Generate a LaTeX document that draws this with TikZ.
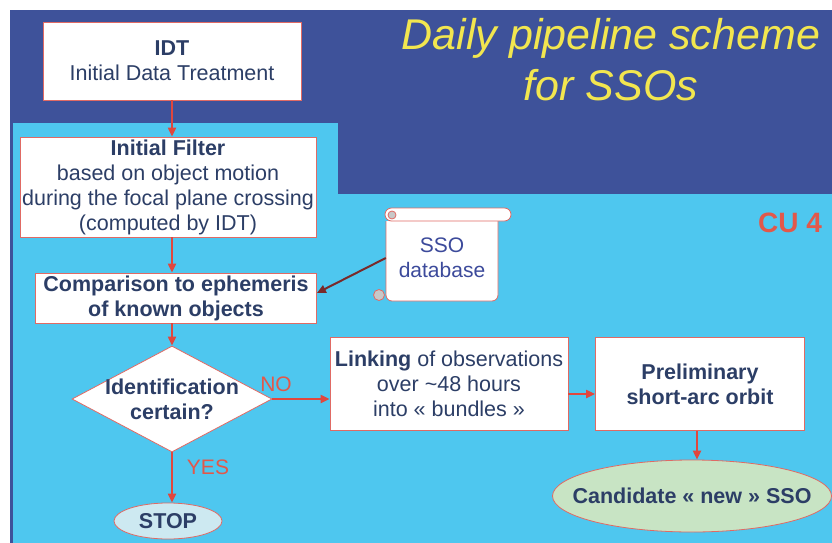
\documentclass[tikz,border=0pt]{standalone}
\usepackage{fontspec}
\setmainfont{Liberation Sans}
\usetikzlibrary{shapes.geometric,arrows.meta}

\definecolor{darkbg}{HTML}{3E529A}
\definecolor{lightbg}{HTML}{4EC7EF}
\definecolor{navy}{HTML}{2C3E66}
\definecolor{boxred}{HTML}{E06A64}
\definecolor{linered}{HTML}{E0473E}
\definecolor{labred}{HTML}{E2584A}
\definecolor{titleyellow}{HTML}{F2E64F}
\definecolor{dbblue}{HTML}{3C4A9B}
\definecolor{dbline}{HTML}{7A2A2A}
\definecolor{curlgray}{HTML}{C8C8C8}
\definecolor{stopfill}{HTML}{CDE9F1}
\definecolor{candfill}{HTML}{C8E4C4}

\tikzset{
  procbox/.style={draw=boxred, line width=0.8pt, fill=white, text=navy, align=center,
    inner sep=1pt, font=\fontsize{21.5}{25}\selectfont},
  decision/.style={diamond, draw=boxred, line width=0.8pt, fill=white, inner sep=0pt},
  endnode/.style={ellipse, draw=boxred, line width=0.8pt, inner sep=0pt},
  inlabel/.style={text=navy, align=center, inner sep=0pt, font=\fontsize{21.5}{25}\selectfont\bfseries},
  flowarrow/.style={draw=linered, line width=2pt, -{Triangle[length=9pt,width=8pt]}},
  answer/.style={text=labred, font=\fontsize{21}{25}\selectfont},
  scrollpart/.style={draw=boxred, line width=0.8pt}
}

\begin{document}
\begin{tikzpicture}[x=1pt,y=-1pt]
% background
\fill[white] (0,0) rectangle (832,543);
\fill[darkbg] (10,10) rectangle (832,543);
\fill[lightbg] (13,123) rectangle (338,543);
\fill[lightbg] (338,194) rectangle (832,543);

\node[text=titleyellow, align=center, inner sep=0pt, font=\fontsize{43}{51}\selectfont\itshape] (title) at (611,60) {Daily pipeline scheme\\for SSOs};
\node[text=labred, font=\fontsize{28}{30}\selectfont\bfseries] (cu) at (790,223) {CU 4};

% main column
\node[procbox, minimum width=258pt, minimum height=78pt] (idt) at (172,61) {\textbf{IDT}\\Initial Data Treatment};
\node[procbox, minimum width=296pt, minimum height=100pt] (filter) at (168,187) {\textbf{Initial Filter}\\based on object motion\\during the focal plane crossing\\(computed by IDT)};
\node[procbox, minimum width=281pt, minimum height=50pt, font=\fontsize{21.5}{25}\selectfont\bfseries] (compare) at (176,298) {Comparison to ephemeris\\of known objects};
\node[decision, minimum width=200pt, minimum height=106pt, label={[inlabel]center:{Identification\\certain?}}] (ident) at (172,399) {};
\node[endnode, fill=stopfill, minimum width=108pt, minimum height=36pt, label={[inlabel]center:STOP}] (stop) at (168,521) {};

% right branch
\node[procbox, minimum width=238pt, minimum height=93pt] (linking) at (449,384) {\textbf{Linking} of observations\\over \textasciitilde48 hours\\into « bundles »};
\node[procbox, minimum width=209pt, minimum height=93pt, font=\fontsize{21.5}{25}\selectfont\bfseries] (prelim) at (700,384) {Preliminary\\short-arc orbit};
\node[endnode, fill=candfill, minimum width=279pt, minimum height=72pt, label={[inlabel]center:Candidate « new » SSO}] (cand) at (692,496) {};

% database scroll
\filldraw[scrollpart, fill=white, rounded corners=6pt] (386,221) -- (386,301) -- (498,301) -- (498,221);
\filldraw[scrollpart, fill=white, rounded corners=6.5pt] (385,208) rectangle (511,221);
\filldraw[scrollpart, fill=curlgray] (392,215) circle (4pt);
\filldraw[scrollpart, fill=curlgray] (379,295) circle (5.5pt);
\node[text=dbblue, align=center, minimum width=112pt, minimum height=80pt, font=\fontsize{21}{25}\selectfont] (db) at (442,258) {SSO\\database};

% connectors
\draw[flowarrow] (idt.south) -- (idt.south |- filter.north);
\draw[flowarrow] (idt.south |- filter.south) -- (idt.south |- compare.north);
\draw[flowarrow] (ident.north |- compare.south) -- (ident.north);
\draw[flowarrow] (ident.south) -- (ident.south |- stop.north);
\draw[flowarrow] (ident.east) -- (ident.east -| linking.west);
\draw[flowarrow] ([yshift=-10pt]linking.east) -- ([yshift=-10pt]prelim.west);
\draw[flowarrow] ([xshift=-3pt]prelim.south) -- ([xshift=-3pt]prelim.south |- cand.north);
\draw[draw=dbline, line width=2pt, -{Triangle[length=9pt,width=8pt]}] (db.west) -- ([yshift=5pt]compare.east);

\node[answer] (no) at (276,384) {NO};
\node[answer] (yes) at (208,467) {YES};
\end{tikzpicture}
\end{document}
